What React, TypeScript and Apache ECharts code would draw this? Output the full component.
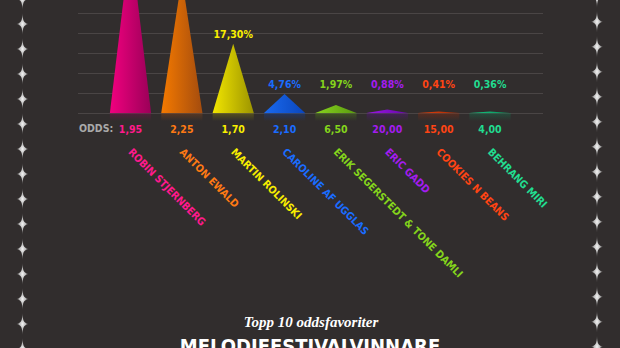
import { useEffect, useRef } from 'react';
import * as echarts from 'echarts';

// ---- data ----
const artists = [
  'ROBIN STJERNBERG',
  'ANTON EWALD',
  'MARTIN ROLINSKI',
  'CAROLINE AF UGGLAS',
  'ERIK SEGERSTEDT & TONE DAMLI',
  'ERIC GADD',
  'COOKIES N BEANS',
  'BEHRANG MIRI',
];
const odds = ['1,95', '2,25', '1,70', '2,10', '6,50', '20,00', '15,00', '4,00'];
const winChance = [42.8, 33.7, 17.3, 4.76, 1.97, 0.88, 0.41, 0.36];

// ---- styles ----
const BG = '#312d2d';
const FONT = "'Liberation Sans Narrow', 'DejaVu Sans Condensed', sans-serif";
const barLight = ['#f2007f', '#f57a00', '#f2e600', '#1a6af0', '#88d41e', '#9c16e8', '#e8420a', '#16cc84'];
const barDark = ['#9a0058', '#a44c0e', '#9c9400', '#0a46bc', '#5a9a10', '#6608a6', '#a02a06', '#0a8a58'];
const textColors = ['#ff1a8c', '#ff7a14', '#f8ee00', '#1a6cff', '#84d41c', '#a41cf0', '#ff4414', '#22dc90'];

const STAR_D = 'M0,-11 C0.5,-3 1,-1.4 6,0 C1,1.4 0.5,3 0,11 C-0.5,3 -1,1.4 -6,0 C-1,-1.4 -0.5,-3 0,-11 Z';
echarts.graphic.registerShape('star4', echarts.graphic.extendPath(STAR_D, {}) as any);

const GRID_TOP = -67;
const GRID_H = 180;
const Y_MAX = 45;
const VISIBLE_MAX = 25;

function hexA(hex: string, a: number) {
  const n = parseInt(hex.slice(1), 16);
  return `rgba(${(n >> 16) & 255},${(n >> 8) & 255},${n & 255},${a})`;
}

export default function App() {
  const ref = useRef<HTMLDivElement>(null);
  useEffect(() => {
    if (!ref.current) return;
    const chart = echarts.init(ref.current, null, { renderer: 'svg' });

    const starFill = {
      type: 'radial', x: 0.5, y: 0.5, r: 0.5,
      colorStops: [
        { offset: 0, color: '#f4f4f4' },
        { offset: 0.5, color: 'rgba(210,210,210,0.85)' },
        { offset: 1, color: 'rgba(160,160,160,0.2)' },
      ],
    };
    const stars: any[] = [];
    for (let k = -1; k <= 14; k++) {
      stars.push({ type: 'star4', x: 22.5, y: 24 + 25 * k, silent: true, style: { fill: starFill } });
      stars.push({ type: 'star4', x: 597, y: 21.7 + 25 * k, silent: true, style: { fill: starFill } });
    }

    const triangles = winChance.map((v, i) => ({
      value: v,
      itemStyle: {
        color: new echarts.graphic.LinearGradient(0, 0, 1, 0, [
          { offset: 0, color: barLight[i] },
          { offset: 1, color: barDark[i] },
        ]),
      },
    }));
    const reflections = winChance.map((v, i) => ({
      value: v,
      itemStyle: {
        color: new echarts.graphic.LinearGradient(0, 0, 0, 1, [
          { offset: 0, color: hexA(barDark[i], 0.35) },
          { offset: 1, color: hexA(barDark[i], 0) },
        ]),
      },
    }));
    const labelHolders = winChance.map((v, i) => ({
      value: Math.max(v, 5),
      label: { color: textColors[i], show: v <= VISIBLE_MAX },
    }));

    const gridBase = { top: GRID_TOP, height: GRID_H, outerBoundsMode: 'none', containLabel: false };
    const option: any = {
      animation: false,
      backgroundColor: BG,
      grid: [
        { left: 78, width: 465, ...gridBase },
        { left: 104.8, width: 410.9, ...gridBase },
        { left: 104.8, width: 410.9, ...gridBase },
      ],
      xAxis: [
        { gridIndex: 0, type: 'value', min: 0, max: 1, show: false },
        {
          gridIndex: 1, type: 'category', data: odds, position: 'bottom',
          axisLine: { show: false }, axisTick: { show: false },
          axisLabel: {
            margin: 10, fontFamily: FONT, fontWeight: 'bold', fontSize: 10.5,
            color: (_v: string, i: number) => textColors[i],
          },
        },
        {
          gridIndex: 2, type: 'category', data: artists, position: 'bottom',
          axisLine: { show: false }, axisTick: { show: false },
          axisLabel: {
            margin: 37, rotate: -45, interval: 0, fontFamily: FONT, fontWeight: 'bold', fontSize: 10.5,
            color: (_v: string, i: number) => textColors[i],
          },
        },
      ],
      yAxis: [
        {
          gridIndex: 0, type: 'value', min: 0, max: Y_MAX, interval: 5,
          axisLine: { show: false }, axisTick: { show: false }, axisLabel: { show: false },
          splitLine: { show: true, lineStyle: { color: '#4a4545', width: 1 } },
        },
        { gridIndex: 1, type: 'value', min: 0, max: Y_MAX, interval: 5, show: false, splitLine: { show: false } },
        { gridIndex: 2, type: 'value', min: 0, max: Y_MAX, interval: 5, show: false, splitLine: { show: false } },
      ],
      series: [
        {
          type: 'pictorialBar', xAxisIndex: 1, yAxisIndex: 1, silent: true,
          symbol: 'rect', symbolSize: [41, 8], symbolPosition: 'start', symbolOffset: [0, '100%'],
          data: reflections, z: 1,
        },
        {
          type: 'pictorialBar', xAxisIndex: 1, yAxisIndex: 1,
          symbol: 'triangle', symbolSize: [41, '100%'],
          data: triangles, z: 3,
        },
        {
          type: 'bar', xAxisIndex: 1, yAxisIndex: 1, barWidth: 41, silent: true,
          itemStyle: { color: 'rgba(0,0,0,0)' },
          label: {
            show: true, position: 'top', distance: 4,
            fontFamily: FONT, fontWeight: 'bold', fontSize: 10.5,
            formatter: (p: any) => winChance[p.dataIndex].toFixed(2).replace('.', ',') + '%',
          },
          data: labelHolders, z: 4,
        },
      ],
      graphic: [
        ...stars,
        {
          type: 'text', x: 79, y: 128, silent: true,
          style: { text: 'ODDS:', fill: '#a9a9a9', font: `bold 10.5px ${FONT}`, verticalAlign: 'middle', align: 'left' },
        },
        {
          type: 'text', x: 311, y: 322, silent: true,
          style: {
            text: 'Topp 10 oddsfavoriter', fill: '#ffffff',
            font: `italic bold 15px 'Liberation Serif', 'DejaVu Serif', serif`,
            align: 'center', verticalAlign: 'middle',
          },
        },
        {
          type: 'text', x: 310, y: 346, silent: true,
          style: {
            text: 'MELODIFESTIVALVINNARE', fill: '#ffffff',
            font: `bold 20px ${FONT}`, align: 'center', verticalAlign: 'middle',
          },
        },
      ],
    };
    chart.setOption(option);
    return () => chart.dispose();
  }, []);

  return (
    <div
      ref={ref}
      style={{ position: 'absolute', left: 0, top: 0, width: 620, height: 348, background: BG }}
    />
  );
}
